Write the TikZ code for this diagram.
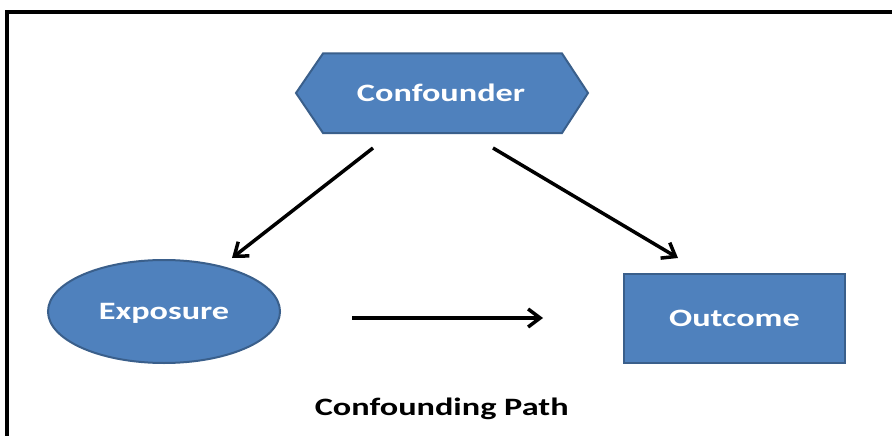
\documentclass[tikz,border=0pt]{standalone}
\usepackage{fontspec}
\setmainfont{Carlito}[FakeStretch=1.37]
\usetikzlibrary{arrows.meta,shapes.geometric}
\definecolor{boxfill}{HTML}{4F81BD}
\definecolor{boxline}{HTML}{3A5F8B}
\begin{document}
\begin{tikzpicture}[x=1pt,y=-1pt,
  shapetext/.style={text=white,font=\fontsize{25}{30}\selectfont\bfseries,text height=16pt,text depth=0pt,inner sep=0pt},
  shapebox/.style={draw=boxline,fill=boxfill,line width=2pt},
  arr/.style={line width=3.5pt,-{Straight Barb[length=12pt,width=18pt,line width=3.5pt]}},
  frame/.style={line width=4pt}]
\useasboundingbox (0,0) rectangle (892,436);
\fill[white] (0,0) rectangle (892,436);
\draw[frame] (7,445) -- (7,12.5) -- (900,12.5);
% Confounder hexagon
\draw[shapebox] (296,93) -- (323,53.5) -- (562,53.5) -- (588,93) -- (562,133) -- (323,133) -- cycle;
\node[shapetext] (conf) at (441,93.3) {Confounder};
% Exposure ellipse
\node[shapebox,shapetext,ellipse,minimum width=232pt,minimum height=103pt] (expo) at (164,311.5) {Exposure};
% Outcome rectangle
\node[shapebox,shapetext,rectangle,minimum width=221pt,minimum height=89pt] (outc) at (734.5,318.5) {Outcome};
% Caption
\node[font=\fontsize{25}{30}\selectfont\bfseries,text height=16pt,text depth=0pt,inner sep=0pt] (cap) at (441.7,407.2) {Confounding Path};
% connector end points
\coordinate (a1) at (373,148);
\coordinate (a2) at (232,258);
\coordinate (b1) at (493,148);
\coordinate (b2) at (678,258);
\coordinate (h1) at (352,318);
\coordinate (h2) at (543,318);
\draw[arr] (a1) -- (a2);
\draw[arr] (b1) -- (b2);
\draw[arr] (h1) -- (h2);
\end{tikzpicture}
\end{document}
